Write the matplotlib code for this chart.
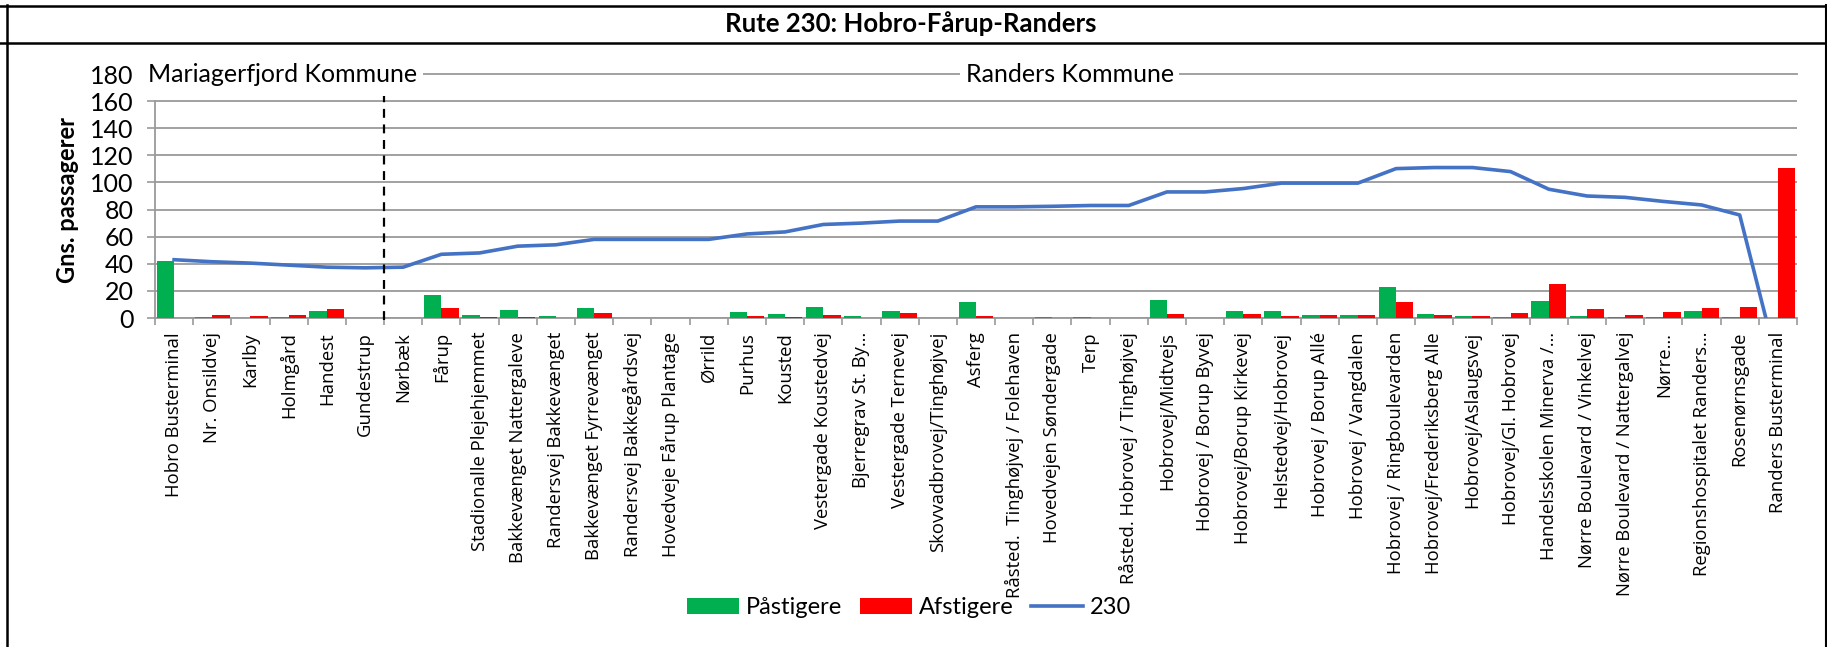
import matplotlib
matplotlib.use("Agg")
import matplotlib.pyplot as plt
import numpy as np
from matplotlib.lines import Line2D
from matplotlib.patches import Patch

stops = [
    "Hobro Busterminal", "Nr. Onsildvej", "Karlby", "Holmgård", "Handest", "Gundestrup",
    "Nørbæk", "Fårup", "Stadionalle Plejehjemmet", "Bakkevænget Nattergaleve",
    "Randersvej Bakkevænget", "Bakkevænget Fyrrevænget", "Randersvej Bakkegårdsvej",
    "Hovedveje Fårup Plantage", "Ørrild", "Purhus", "Kousted", "Vestergade Koustedvej",
    "Bjerregrav St. By…", "Vestergade Ternevej", "Skovvadbrovej/Tinghøjvej", "Asferg",
    "Råsted.  Tinghøjvej / Folehaven", "Hovedvejen Søndergade", "Terp",
    "Råsted. Hobrovej / Tinghøjvej", "Hobrovej/Midtvejs", "Hobrovej / Borup Byvej",
    "Hobrovej/Borup Kirkevej", "Helstedvej/Hobrovej", "Hobrovej / Borup Allé",
    "Hobrovej / Vangdalen", "Hobrovej / Ringboulevarden", "Hobrovej/Frederiksberg Alle",
    "Hobrovej/Aslaugsvej", "Hobrovej/Gl. Hobrovej", "Handelsskolen Minerva /…",
    "Nørre Boulevard / Vinkelvej", "Nørre Boulevard / Nattergalvej", "Nørre…",
    "Regionshospitalet Randers…", "Rosenørnsgade", "Randers Busterminal",
]

paastigere = [42.4, 0.5, 0.3, 0.8, 5.1, 0, 0.3, 16.6, 2, 5.9, 1.2, 7.6, 0, 0.2, 0,
              4.4, 2.7, 8, 1.2, 5.4, 0, 11.5, 0, 1, 1, 0, 13.2, 0, 4.9, 5.4, 2.2, 2.2,
              22.7, 2.9, 1.7, 0.7, 12.2, 1.2, 0.7, 1, 4.9, 0.7, 0]
afstigere = [0, 2.2, 1.2, 2.2, 6.8, 0.3, 0, 7.1, 1, 1, 0, 3.7, 0, 0.2, 0,
             1.2, 1, 2.2, 0.3, 3.7, 0, 1.7, 0, 0.3, 0.3, 0, 2.9, 0, 2.7, 1.5, 2.2, 2.2,
             11.7, 2, 1.7, 3.7, 24.9, 6.6, 2, 4.1, 7.3, 7.8, 111]
rute230 = [43, 41.5, 40.5, 39, 37.5, 37, 37.5, 47, 48, 53, 54, 58, 58, 58, 58,
           62, 63.5, 69, 70, 71.5, 71.5, 82, 82, 82.4, 83, 83, 93, 93, 95.5, 99.5, 99.5, 99.5,
           110.2, 111, 111, 108, 95, 90, 89, 86, 83.4, 76, -35]

yticks = [0, 20, 40, 60, 80, 100, 120, 140, 160, 180]
title = "Rute 230: Hobro-Fårup-Randers"
ylabel = "Gns. passagerer"
region_labels = ["Mariagerfjord Kommune", "Randers Kommune"]
series_names = ["Påstigere", "Afstigere", "230"]

GREEN = "#00B050"
RED = "#FF0000"
BLUE = "#4472C4"
GRID = "#9a9a9a"
FONT = "Lato"
LABEL_FONT = "Open Sans"

plt.rcParams["font.family"] = [FONT, "DejaVu Sans"]

W, H = 1827, 647
fig = plt.figure(figsize=(W / 100, H / 100), dpi=100)
ax = fig.add_axes([155 / W, 1 - 318 / H, (1797 - 155) / W, (318 - 74) / H])

x = np.arange(len(stops))
bw = 0.455
ax.bar(x - bw / 2, paastigere, width=bw, color=GREEN, zorder=3)
ax.bar(x + bw / 2, afstigere, width=bw, color=RED, zorder=3)
ax.plot(x, rute230, color=BLUE, lw=2.6, zorder=4, solid_joinstyle="round")

ax.set_xlim(-0.5, len(stops) - 0.5)
ax.set_ylim(0, 180)

for v in yticks[:-1]:
    ax.axhline(v, color=GRID, lw=1.3, zorder=1)
ax.axhline(180, color=GRID, lw=1.3, zorder=1, clip_on=False)

for s in ["top", "right"]:
    ax.spines[s].set_visible(False)
ax.spines["left"].set_bounds(0, 160)
ax.spines["left"].set_color(GRID)
ax.spines["left"].set_linewidth(1.3)
ax.spines["bottom"].set_color(GRID)
ax.spines["bottom"].set_linewidth(1.3)
ax.spines["bottom"].set_zorder(2)

ax.set_yticks(yticks)
ax.set_yticklabels([str(v) for v in yticks], fontsize=18)
ax.tick_params(axis="y", length=6, color=GRID, width=1.2, pad=9.5)
ax.yaxis.get_major_ticks()[-1].tick1line.set_visible(False)

ax.set_xticks(x)
ax.set_xticklabels(stops, rotation=90, fontsize=13.3, va="top", ha="center", family=[LABEL_FONT, "DejaVu Sans"])
ax.tick_params(axis="x", which="major", length=0, pad=10)
ax.set_xticks(np.arange(-0.5, len(stops), 1.0), minor=True)
ax.tick_params(axis="x", which="minor", length=5, color=GRID, width=1.2)

ax.set_ylabel(ylabel, fontsize=17, fontweight="bold")
ax.yaxis.set_label_coords(-(155 - 79) / (1797 - 155), (318 - 200) / (318 - 74))

ax.plot([5.5, 5.5], [-1.5, 164], color="black", lw=1.6, ls=(0, (4, 3)), zorder=5, clip_on=False)

bb = dict(facecolor="white", edgecolor="none", pad=4)
ax.text(-0.68, 180, region_labels[0], fontsize=18, va="center", ha="left", bbox=bb, zorder=6, clip_on=False)
ax.text(20.73, 180, region_labels[1], fontsize=18, va="center", ha="left", bbox=bb, zorder=6, clip_on=False)

fig.text(911 / W, 1 - 24 / H, title, fontsize=18.5, fontweight="bold", ha="center", va="center")

fig.add_artist(Line2D([0, 1], [1 - 5.5 / H, 1 - 5.5 / H], color="black", lw=1.8, transform=fig.transFigure))
fig.add_artist(Line2D([0, 1], [1 - 43 / H, 1 - 43 / H], color="black", lw=1.8, transform=fig.transFigure))
fig.add_artist(Line2D([7 / W, 7 / W], [0, 1 - 5 / H], color="black", lw=1.8, transform=fig.transFigure))
fig.add_artist(Line2D([1 - 1.5 / W, 1 - 1.5 / W], [0, 1 - 5 / H], color="black", lw=1.5, transform=fig.transFigure))

handles = [Patch(facecolor=GREEN, edgecolor="none"), Patch(facecolor=RED, edgecolor="none"),
           Line2D([], [], color=BLUE, lw=2.6)]
fig.legend(handles, series_names, loc="center", bbox_to_anchor=(909 / W, 1 - 608 / H), ncol=3,
           frameon=False, fontsize=17, handlelength=2.2, handleheight=0.64, handletextpad=0.3,
           columnspacing=0.75)

fig.savefig("out.png", dpi=100, facecolor="white")
